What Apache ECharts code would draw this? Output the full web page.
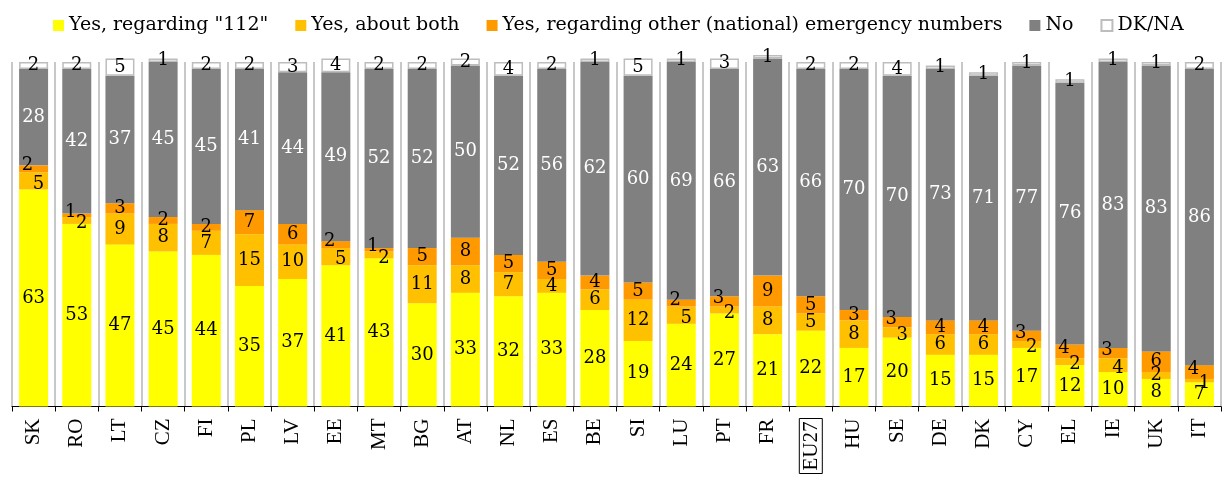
<!DOCTYPE html>
<html>
<head>
<meta charset="utf-8">
<script src="https://cdn.jsdelivr.net/npm/echarts@6/dist/echarts.min.js"></script>
<style>
  html, body { margin: 0; padding: 0; background: #fff; }
  #chart { width: 1222px; height: 477px; }
</style>
</head>
<body>
<div id="chart"></div>
<script>
// Countries, ordered by share answering "Yes, regarding 112"
const categories = ['SK','RO','LT','CZ','FI','PL','LV','EE','MT','BG','AT','NL','ES','BE','SI','LU','PT','FR','EU27','HU','SE','DE','DK','CY','EL','IE','UK','IT'];

// Percentages per answer
const yes112   = [63,53,47,45,44,35,37,41,43,30,33,32,33,28,19,24,27,21,22,17,20,15,15,17,12,10, 8, 7];
const yesBoth  = [ 5, 2, 9, 8, 7,15,10, 5, 2,11, 8, 7, 4, 6,12, 5, 2, 8, 5, 8, 3, 6, 6, 2, 2, 4, 2, 1];
const yesOther = [ 2, 1, 3, 2, 2, 7, 6, 2, 1, 5, 8, 5, 5, 4, 5, 2, 3, 9, 5, 3, 3, 4, 4, 3, 4, 3, 6, 4];
const noAns    = [28,42,37,45,45,41,44,49,52,52,50,52,56,62,60,69,66,63,66,70,70,73,71,77,76,83,83,86];
const dkna     = [ 2, 2, 5, 1, 2, 2, 3, 4, 2, 2, 2, 4, 2, 1, 5, 1, 3, 1, 2, 2, 4, 1, 1, 1, 1, 1, 1, 2];

const seriesNames = ['Yes, regarding "112"', 'Yes, about both', 'Yes, regarding other (national) emergency numbers', 'No', 'DK/NA'];

const serif = '"DejaVu Serif", "Liberation Serif", serif';
const axisSerif = '"Liberation Serif", "DejaVu Serif", serif';
const labelFont = { fontFamily: serif, fontSize: 18 };

// Small "both" / "other" pairs get their labels nudged apart
function crowded(i) { return yesBoth[i] + yesOther[i] <= 7; }

function items(values, shift) {
  return values.map((v, i) => {
    const d = { value: v };
    if (shift && crowded(i)) d.label = { offset: shift };
    return d;
  });
}

function barSeries(name, values, color, textColor, extra, shift) {
  return Object.assign({
    name: name,
    type: 'bar',
    stack: 'total',
    barWidth: 29,
    clip: false,
    data: items(values, shift),
    itemStyle: { color: color },
    label: Object.assign({ show: true, position: 'inside', color: textColor }, labelFont),
    emphasis: { disabled: true }
  }, extra || {});
}

const chart = echarts.init(document.getElementById('chart'), null, { renderer: 'canvas' });

chart.setOption({
  animation: false,
  legend: {
    left: 48,
    top: 11,
    icon: 'rect',
    itemWidth: 11,
    itemHeight: 11,
    itemGap: 27,
    textStyle: { fontFamily: serif, fontSize: 19, color: '#000' },
    data: seriesNames
  },
  grid: { left: 12, right: 1, top: 62, bottom: 66 },
  xAxis: {
    type: 'category',
    data: categories,
    axisLine: { lineStyle: { color: '#000', width: 1 } },
    axisTick: { show: true, length: 5, lineStyle: { color: '#000' } },
    splitLine: { show: true, lineStyle: { color: '#c8c8c8', width: 2 } },
    axisLabel: {
      rotate: 90,
      margin: 12,
      color: '#000',
      fontFamily: axisSerif,
      fontSize: 21,
      formatter: v => v === 'EU27' ? '{box|' + v + '}' : v,
      rich: {
        box: {
          fontFamily: axisSerif, fontSize: 21, color: '#000',
          borderColor: '#000', borderWidth: 1, padding: [2, 3, 0, 3]
        }
      }
    }
  },
  yAxis: {
    type: 'value',
    min: 0,
    max: 100,
    show: false,
    splitLine: { show: false }
  },
  series: [
    barSeries(seriesNames[0], yes112, '#ffff00', '#000'),
    barSeries(seriesNames[1], yesBoth, '#ffc000', '#000', null, [5, 3]),
    barSeries(seriesNames[2], yesOther, '#ff9900', '#000', null, [-6, -3]),
    barSeries(seriesNames[3], noAns, '#808080', '#fff'),
    barSeries(seriesNames[4], dkna, '#ffffff', '#000', {
      itemStyle: { color: '#ffffff', borderColor: '#bdbdbd', borderWidth: 1.5 }
    })
  ]
});
</script>
</body>
</html>
